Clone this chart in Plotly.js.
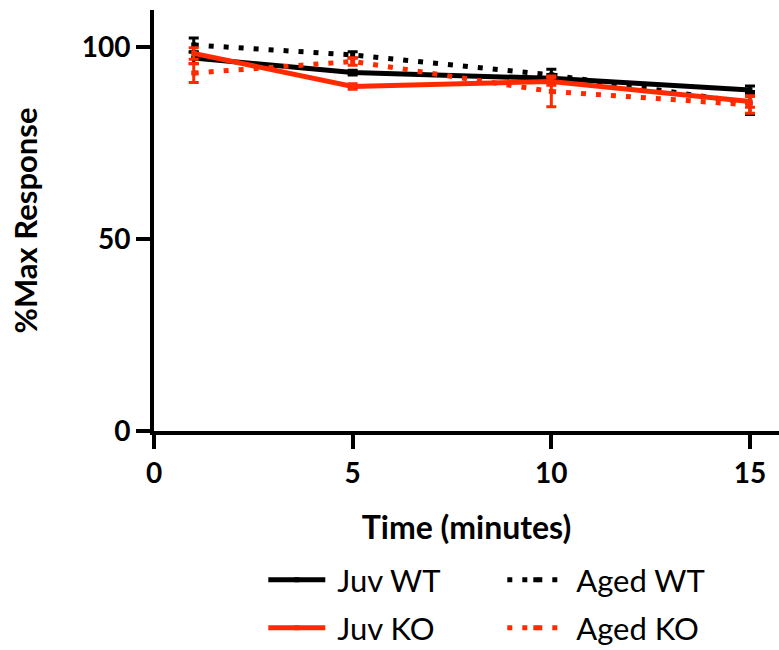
<!DOCTYPE html>
<html>
<head>
<meta charset="utf-8">
<script src="https://cdn.plot.ly/plotly-3.0.1.min.js"></script>
<style>html,body{margin:0;padding:0;background:#fff;}#chart{width:779px;height:650px;}</style>
</head>
<body>
<div id="chart"></div>
<script>
// Data
const timeMin = [1, 5, 10, 15];
const juvWT = [97.1, 93.3, 91.8, 88.8];
const juvWTErr = [1.5, 0.6, 1.0, 1.0];
const agedWT = [100.5, 97.9, 92.7, 85.4];
const agedWTErr = [1.8, 0.8, 1.5, 3.0];
const juvKO = [98.3, 89.7, 91.0, 85.8];
const juvKOErr = [1.5, 0.7, 1.0, 1.5];
const agedKO = [93.2, 96.2, 88.4, 84.9];
const agedKOErr = [2.5, 1.0, 4.0, 2.2];
const seriesNames = ["Juv WT", "Aged WT", "Juv KO", "Aged KO"];
const xTicks = [0, 5, 10, 15];
const yTicks = [0, 50, 100];

const BLACK = "#000000";
const RED = "#ff2a00";
const FONT = "Lato, Open Sans, Liberation Sans, sans-serif";

function tr(name, y, err, color, dash, dotted, legendId) {
  return {
    x: timeMin, y: y, name: "\u00a0" + name, type: "scatter", mode: "lines+markers",
    legend: legendId,
    line: {color: color, width: 5, dash: dash},
    marker: {color: color, size: 5, symbol: "square"},
    error_y: {type: "data", array: err, visible: true, color: color, thickness: 3, width: 5}
  };
}

const data = [
  tr(seriesNames[0], juvWT, juvWTErr, BLACK, "solid", false, "legend"),
  tr(seriesNames[1], agedWT, agedWTErr, BLACK, "5px,10px", true, "legend"),
  tr(seriesNames[2], juvKO, juvKOErr, RED, "solid", false, "legend2"),
  tr(seriesNames[3], agedKO, agedKOErr, RED, "5px,10px", true, "legend2")
];

const tickFont = {family: FONT, size: 28, color: "#000", weight: "bold"};
const legendBase = {
  orientation: "h", xref: "container", yref: "container",
  x: 0.338, xanchor: "left", yanchor: "middle",
  entrywidth: 167, entrywidthmode: "pixels",
  font: {family: FONT, size: 31, color: "#000"},
  itemwidth: 57, bgcolor: "rgba(0,0,0,0)", borderwidth: 0
};

const layout = {
  width: 779, height: 650,
  margin: {l: 154, r: 0, t: 10, b: 219},
  paper_bgcolor: "#fff", plot_bgcolor: "#fff",
  showlegend: true,
  xaxis: {
    range: [0, 15.73], tickvals: xTicks, ticktext: xTicks.map(String),
    showgrid: false, zeroline: false, showline: true, linecolor: "#000", linewidth: 4,
    ticks: "outside", ticklen: 14, tickwidth: 4, tickcolor: "#000",
    tickfont: tickFont,
    title: {text: "<b>Time (minutes)</b>", font: {family: FONT, size: 32, color: "#000"}, standoff: 30}
  },
  yaxis: {
    range: [0, 109.6], tickvals: yTicks, ticktext: yTicks.map(String),
    showgrid: false, zeroline: false, showline: true, linecolor: "#000", linewidth: 4,
    ticks: "outside", ticklen: 14, tickwidth: 4, tickcolor: "#000",
    tickfont: tickFont,
    title: {text: "<b>%Max Response</b>", font: {family: FONT, size: 31, color: "#000"}, standoff: 36}
  },
  legend: Object.assign({}, legendBase, {y: 1 - 580 / 650}),
  legend2: Object.assign({}, legendBase, {y: 1 - 628 / 650})
};

Plotly.newPlot("chart", data, layout, {displayModeBar: false, staticPlot: true});
</script>
</body>
</html>
